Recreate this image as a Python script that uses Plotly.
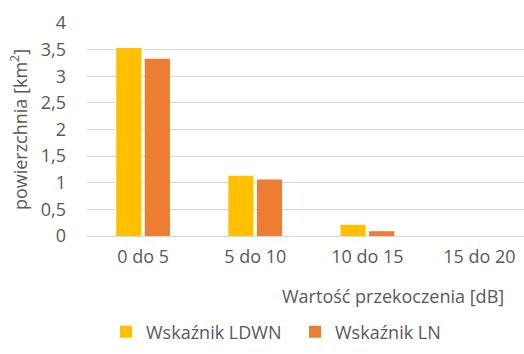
import plotly.graph_objects as go

# Exceedance ranges and the area (km²) for each noise indicator
categories = ["0 do 5", "5 do 10", "10 do 15", "15 do 20"]
ldwn_area = [3.53, 1.13, 0.21, 0.0]
ln_area = [3.33, 1.06, 0.09, 0.0]
y_ticks = [0, 0.5, 1, 1.5, 2, 2.5, 3, 3.5, 4]
y_tick_text = ["0", "0,5", "1", "1,5", "2", "2,5", "3", "3,5", "4"]

text_color = "#595959"
font_family = "Open Sans, Noto Sans, DejaVu Sans, sans-serif"
fs = 18

W, H = 524, 354
left, top, bottom = 87, 23, 118
plot_h = H - top - bottom


def paper_y(py):
    """Convert a pixel row to paper y coordinates."""
    return (H - bottom - py) / plot_h


fig = go.Figure()
fig.add_trace(go.Bar(x=categories, y=ldwn_area, name="Wskaźnik LDWN",
                     marker=dict(color="#FFC000", line=dict(width=0))))
fig.add_trace(go.Bar(x=categories, y=ln_area, name="Wskaźnik LN",
                     marker=dict(color="#ED7D31", line=dict(width=0))))

fig.update_layout(
    width=W, height=H,
    margin=dict(l=left, r=0, t=top, b=bottom),
    paper_bgcolor="white", plot_bgcolor="white",
    barmode="group", bargap=0.49, bargroupgap=0.12,
    font=dict(family=font_family, size=fs, color=text_color),
    showlegend=True,
    legend=dict(orientation="h", x=(106 - left) / (W - left), y=paper_y(332),
                xanchor="left", yanchor="middle",
                font=dict(size=fs, color=text_color),
                entrywidth=184 - 40, entrywidthmode="pixels",
                traceorder="normal", itemsizing="constant"),
    xaxis=dict(type="category", range=[-0.5, 3.397], showgrid=False,
               showline=False, ticks="", tickfont=dict(size=fs, color=text_color),
               ticklabelstandoff=8),
    yaxis=dict(range=[0, 4], tickvals=y_ticks, ticktext=y_tick_text,
               showgrid=True, gridcolor="#D9D9D9", gridwidth=1,
               zeroline=True, zerolinecolor="#D9D9D9", zerolinewidth=1,
               showline=False, ticks="", ticklabelstandoff=20,
               tickfont=dict(size=fs, color=text_color),
               title=dict(text="powierzchnia [km<sup>2</sup>]", standoff=8,
                          font=dict(size=fs, color=text_color))),
    annotations=[dict(text="Wartość przekoczenia [dB]", xref="paper", yref="paper",
                      x=(506 - left) / (W - left), y=paper_y(296),
                      xanchor="right", yanchor="middle", showarrow=False,
                      font=dict(size=fs, color=text_color))],
)

fig.write_html("out.html")
